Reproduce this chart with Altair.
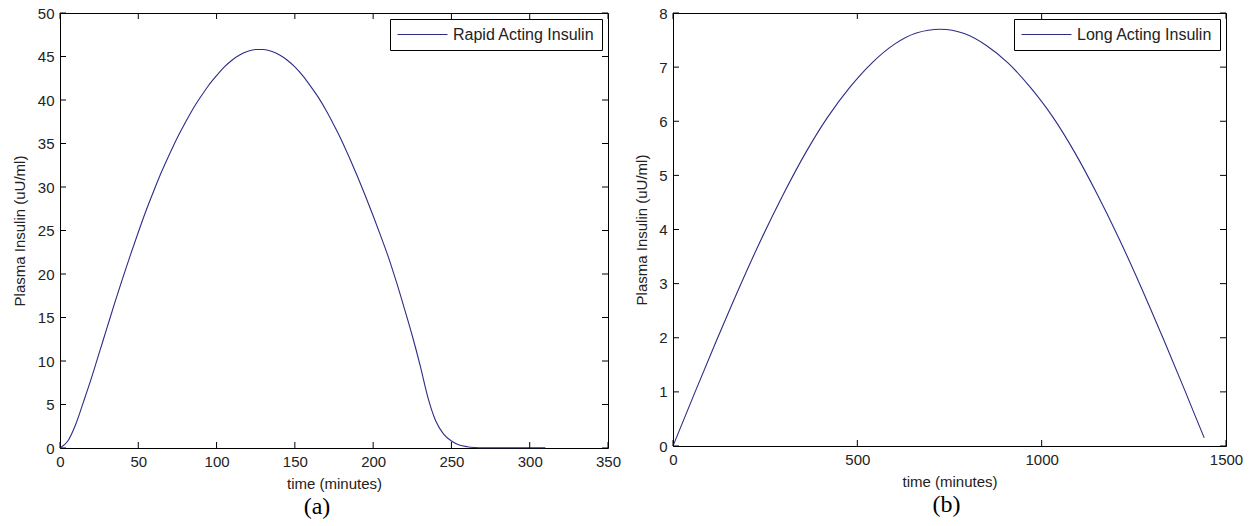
import altair as alt
import pandas as pd

# ---- data ----
t_rapid = [0, 5, 10, 15, 20, 25, 30, 35, 40, 45, 50, 55, 60, 65, 70, 75, 80, 85, 90, 95,
           100, 105, 110, 115, 120, 125, 130, 135, 140, 145, 150, 155, 160, 165, 170,
           175, 180, 185, 190, 195, 200, 205, 210, 215, 220, 225, 230, 235, 240, 245,
           250, 255, 260, 265, 270, 280, 290, 300, 310]
y_rapid = [0, 0.8, 2.7, 5.3, 8.0, 10.9, 13.8, 16.7, 19.5, 22.2, 24.8, 27.3, 29.6, 31.8,
           33.8, 35.7, 37.4, 39.0, 40.4, 41.7, 42.8, 43.8, 44.6, 45.2, 45.6, 45.8, 45.8,
           45.6, 45.2, 44.6, 43.8, 42.8, 41.6, 40.3, 38.8, 37.1, 35.3, 33.3, 31.2, 29.0,
           26.7, 24.3, 21.8, 19.0, 16.0, 12.9, 9.5, 5.8, 3.1, 1.6, 0.8, 0.35, 0.15, 0.06,
           0.03, 0.03, 0.03, 0.03, 0.03]

t_long = [0, 60, 120, 180, 240, 300, 360, 420, 480, 540, 600, 660, 725, 790, 850, 910,
          970, 1030, 1090, 1150, 1210, 1270, 1330, 1390, 1415, 1441]
y_long = [0, 1.0, 1.98, 2.93, 3.83, 4.66, 5.42, 6.08, 6.63, 7.08, 7.42, 7.63, 7.70,
          7.62, 7.40, 7.07, 6.62, 6.08, 5.42, 4.66, 3.83, 2.93, 1.98, 1.0, 0.58, 0.15]

xticks_a = [0, 50, 100, 150, 200, 250, 300, 350]
yticks_a = [0, 5, 10, 15, 20, 25, 30, 35, 40, 45, 50]
xticks_b = [0, 500, 1000, 1500]
yticks_b = [0, 1, 2, 3, 4, 5, 6, 7, 8]

LINE_COLOR = "#2c2c86"
FONT = "Liberation Sans"
TXT = "#222222"
TICK = 6
FS = 15


def panel(t, v, name, xt, yt, xdom, ydom, W, H, tag, tag_dx, ytitle_pad):
    df = pd.DataFrame({"t": t, "v": v, "s": [name] * len(t)})
    xs = alt.Scale(domain=xdom, nice=False, zero=False)
    ys = alt.Scale(domain=ydom, nice=False, zero=False)
    xaxis = alt.Axis(values=xt, title="time (minutes)", grid=False, ticks=False,
                     domain=False, labelPadding=6, titlePadding=7, format="d",
                     labelFont=FONT, labelFontSize=FS, labelColor=TXT,
                     titleFont=FONT, titleFontSize=FS, titleFontWeight="normal",
                     titleColor=TXT, labelFlush=False)
    yaxis = alt.Axis(values=yt, title="Plasma Insulin (uU/ml)", grid=False, ticks=False,
                     domain=False, labelPadding=6, titlePadding=ytitle_pad, format="d",
                     labelFont=FONT, labelFontSize=FS, labelColor=TXT,
                     titleFont=FONT, titleFontSize=FS, titleFontWeight="normal",
                     titleColor=TXT, labelFlush=False)
    X = alt.X("t:Q", scale=xs, axis=xaxis)
    Y = alt.Y("v:Q", scale=ys, axis=yaxis)
    line = alt.Chart(df).mark_line(strokeWidth=1.1, interpolate="monotone").encode(
        x=X, y=Y,
        color=alt.Color("s:N", scale=alt.Scale(domain=[name], range=[LINE_COLOR]),
                        legend=alt.Legend(title=None, orient="top-right", offset=6,
                                          strokeColor="black", fillColor="white",
                                          padding=7, cornerRadius=0,
                                          symbolType="M-3.125,0L3.125,0", symbolSize=256,
                                          symbolOffset=17, symbolStrokeWidth=1,
                                          labelFont=FONT, labelFontSize=16,
                                          labelColor=TXT, labelOffset=22)),
    )
    xdf = pd.DataFrame({"t": xt})
    ydf = pd.DataFrame({"v": yt})
    tb = alt.Chart(xdf).mark_rule(color="black").encode(x=X, y=alt.value(H), y2=alt.value(H - TICK))
    tt = alt.Chart(xdf).mark_rule(color="black").encode(x=X, y=alt.value(0), y2=alt.value(TICK))
    tl = alt.Chart(ydf).mark_rule(color="black").encode(y=Y, x=alt.value(0), x2=alt.value(TICK))
    tr = alt.Chart(ydf).mark_rule(color="black").encode(y=Y, x=alt.value(W), x2=alt.value(W - TICK))
    return alt.layer(line, tb, tt, tl, tr).properties(
        width=W, height=H,
        title=alt.TitleParams(tag, orient="bottom", anchor="middle", dx=tag_dx,
                              font="Liberation Serif", fontSize=24, fontWeight="normal",
                              color="black", offset=4),
    )


left = panel(t_rapid, y_rapid, "Rapid Acting Insulin", xticks_a, yticks_a, [0, 350], [0, 50],
             548, 435, "(a)", -17, 10)
right = panel(t_long, y_long, "Long Acting Insulin", xticks_b, yticks_b, [0, 1500], [0, 8],
              553, 433, "(b)", -3, 9)

chart = alt.hconcat(left, right, spacing=12).resolve_scale(color="independent").resolve_legend(
    color="independent"
).properties(
    padding={"left": 11, "top": 5, "right": 5, "bottom": 0},
    background="white",
).configure_view(stroke="black", strokeWidth=1)

chart.save("out.html", embed_options={"renderer": "svg", "actions": False})
